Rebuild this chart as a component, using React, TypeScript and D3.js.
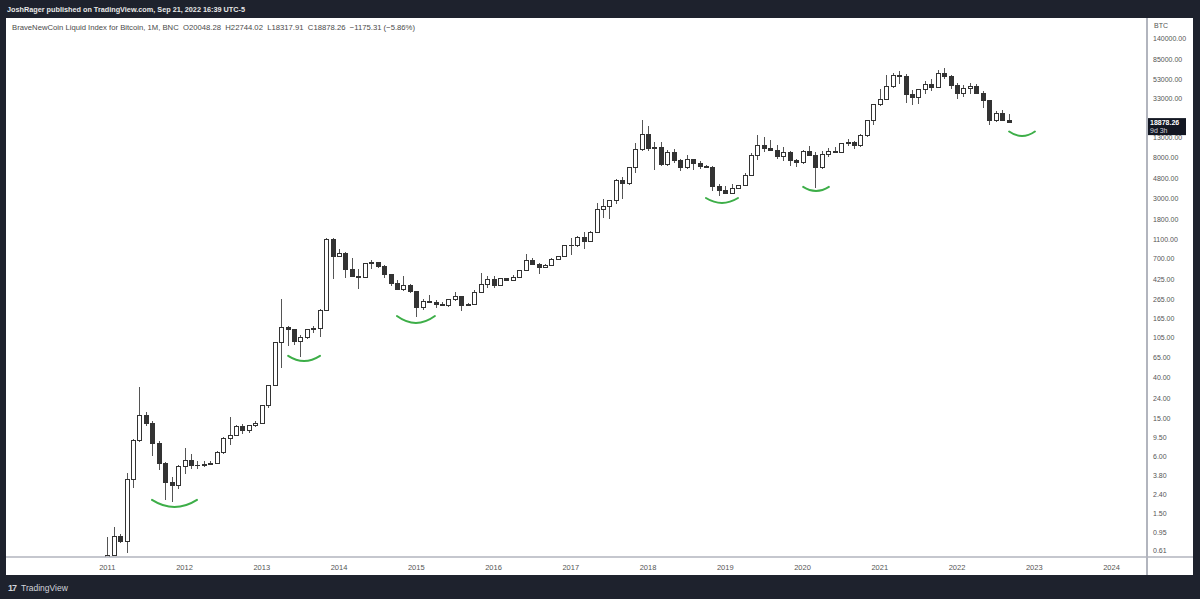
import React from 'react';
import * as d3 from 'd3';

// BNC BLX monthly candles, Jan 2011 .. Sep 2022
const open = [
  0.30, 0.56, 0.87, 0.78, 3.5, 8.8, 16.2, 13.4, 8.2, 5.1, 3.25, 2.97,
  4.7, 5.5, 4.9, 4.85, 4.95, 5.15, 6.65, 9.3, 10.1, 12.4, 11.2, 12.6,
  13.5, 20.4, 33.4, 93, 135, 129, 97, 106, 129, 133, 204, 1130,
  750, 810, 550, 460, 448, 625, 640, 585, 480, 387, 338, 375,
  318, 218, 254, 244, 236, 230, 263, 284, 230, 236, 314, 378,
  430, 368, 437, 416, 448, 531, 673, 624, 574, 609, 700, 742,
  965, 968, 1190, 1080, 1350, 2300, 2480, 2870, 4730, 4340, 6450, 9900,
  14150, 10200, 10400, 6900, 9240, 7500, 6400, 7730, 7020, 6620, 6330, 4000,
  3700, 3430, 3820, 4100, 5300, 8560, 10800, 10100, 9600, 8300, 9150, 7550,
  7200, 9350, 8550, 6430, 8650, 9450, 9150, 11350, 11650, 10780, 13800, 19700,
  28950, 33100, 45200, 58800, 57800, 37300, 35000, 41500, 47100, 43800, 61300, 57000,
  46300, 38500, 43200, 45500, 37700, 31800, 19800, 23300, 20048.28,
];
const high = [
  0.86, 1.10, 0.92, 4.0, 9.0, 31.8, 17.5, 14.0, 8.7, 5.2, 3.6, 4.8,
  7.3, 6.4, 5.4, 5.4, 5.4, 6.8, 9.6, 15.4, 12.6, 12.9, 12.7, 13.9,
  20.7, 33.6, 95, 266, 140, 130, 111, 130, 140, 210, 1160, 1150,
  880, 830, 715, 550, 630, 680, 650, 600, 490, 415, 460, 380,
  320, 265, 295, 260, 245, 268, 315, 285, 243, 330, 495, 465,
  462, 445, 440, 470, 540, 780, 705, 630, 612, 715, 755, 980,
  1150, 1200, 1350, 1365, 2690, 2980, 2920, 4780, 4980, 6470, 11400, 19900,
  17200, 11800, 11600, 9750, 9950, 7780, 8480, 7750, 7400, 6700, 6550, 4200,
  4000, 4200, 4150, 5600, 9000, 13800, 13100, 12300, 10900, 10400, 9500, 7750,
  9550, 10500, 9150, 9450, 10050, 10400, 11450, 12450, 12100, 14100, 19900, 29300,
  41900, 58300, 61700, 64800, 59500, 41300, 42300, 50500, 52900, 66900, 69000, 59100,
  47900, 45800, 48200, 47400, 40000, 31900, 24600, 25200, 22744.02,
];
const low = [
  0.28, 0.55, 0.74, 0.58, 2.8, 8.5, 12.5, 6.0, 4.3, 2.1, 2.0, 2.7,
  3.9, 4.4, 4.4, 4.6, 4.9, 5.1, 6.4, 7.9, 9.9, 10.3, 10.5, 12.1,
  12.9, 19.1, 33, 50, 85, 88, 65, 100, 117, 105, 200, 430,
  740, 440, 450, 340, 440, 550, 565, 445, 365, 330, 320, 305,
  172, 205, 240, 215, 225, 220, 253, 200, 225, 235, 305, 350,
  350, 365, 405, 415, 440, 525, 600, 480, 570, 605, 690, 740,
  760, 920, 890, 1075, 1350, 1850, 1830, 2650, 2980, 4100, 5550, 9500,
  9500, 5950, 6600, 6580, 7100, 5800, 6100, 5880, 6120, 6200, 3600, 3200,
  3350, 3380, 3800, 4050, 5300, 7500, 9100, 9400, 7800, 7400, 6550, 6450,
  6900, 8450, 3850, 6150, 8150, 8900, 8950, 10600, 9900, 10400, 13300, 17600,
  28100, 32300, 43000, 47000, 30000, 28800, 29300, 37400, 39600, 43300, 53300, 42000,
  33000, 34400, 37200, 37600, 26700, 17600, 18800, 19600, 18317.91,
];
const close = [
  0.56, 0.87, 0.78, 3.5, 8.8, 16.2, 13.4, 8.2, 5.1, 3.25, 2.97, 4.7,
  5.5, 4.9, 4.85, 4.95, 5.15, 6.65, 9.3, 10.1, 12.4, 11.2, 12.6, 13.5,
  20.4, 33.4, 93, 135, 129, 97, 106, 129, 133, 204, 1130, 750,
  810, 550, 460, 448, 625, 640, 585, 480, 387, 338, 375, 318,
  218, 254, 244, 236, 230, 263, 284, 230, 236, 314, 378, 430,
  368, 437, 416, 448, 531, 673, 624, 574, 609, 700, 742, 965,
  968, 1190, 1080, 1350, 2300, 2480, 2870, 4730, 4340, 6450, 9900, 14150,
  10200, 10400, 6900, 9240, 7500, 6400, 7730, 7020, 6620, 6330, 4000, 3700,
  3430, 3820, 4100, 5300, 8560, 10800, 10100, 9600, 8300, 9150, 7550, 7200,
  9350, 8550, 6430, 8650, 9450, 9150, 11350, 11650, 10780, 13800, 19700, 28950,
  33100, 45200, 58800, 57800, 37300, 35000, 41500, 47100, 43800, 61300, 57000, 46300,
  38500, 43200, 45500, 37700, 31800, 19800, 23300, 20048.28, 18878.26,
];

const yearLabels = ['2011', '2012', '2013', '2014', '2015', '2016', '2017', '2018', '2019', '2020', '2021', '2022', '2023', '2024'];
// 20000.00 sits under the last-price tag in the original, so it is left out
const priceTicks = [140000, 85000, 53000, 33000, 13000, 8000, 4800, 3000, 1800, 1100, 700, 425, 265, 165, 105, 65, 40, 24, 15, 9.5, 6, 3.8, 2.4, 1.5, 0.95, 0.61];

// hand drawn green "smiles": month index span, price at the tips, price at the bottom
const smileFrom = [6.95, 28.1, 45.0, 93.0, 108.1, 140.1];
const smileTo = [13.94, 33.05, 50.9, 97.98, 112.1, 144.1];
const smileEdge = [2.09, 67.3, 176, 3030, 3957, 15070];
const smileBottom = [1.76, 59.5, 149, 2688, 3592, 13520];

const header = 'JoshRager published on TradingView.com, Sep 21, 2022 16:39 UTC-5';
const legend = 'BraveNewCoin Liquid Index for Bitcoin, 1M, BNC  O20048.28  H22744.02  L18317.91  C18878.26  \u22121175.31 (\u22125.86%)';

export default function App() {
  const W = 1200, H = 599;
  const panel = { left: 6, top: 18, right: 1193, bottom: 575 };
  const plotRight = 1147, plotBottom = 557;

  const x = d3.scaleLinear().domain([0, 156]).range([107.25, 1111.5]);
  const y = d3.scaleLog().domain([0.61, 140000]).range([551, 39]);

  const candles = close.map((c, i) => ({ i, o: open[i], h: high[i], l: low[i], c }));
  const last = candles[candles.length - 1];
  const font = '"Liberation Sans", Arial, sans-serif';
  const ink = '#333';

  const smiles = smileFrom.map((f, k) => {
    const p = d3.path();
    const ye = y(smileEdge[k]);
    p.moveTo(x(f), ye);
    p.quadraticCurveTo(x((f + smileTo[k]) / 2), 2 * y(smileBottom[k]) - ye, x(smileTo[k]), ye);
    return p.toString();
  });

  const ly = y(last.c);

  return (
    <svg width={W} height={H} style={{ position: 'absolute', left: 0, top: 0, display: 'block' }}
      fontFamily={font}>
      <defs>
        <clipPath id="plot">
          <rect x={panel.left} y={panel.top} width={plotRight - panel.left} height={plotBottom - panel.top} />
        </clipPath>
      </defs>
      <rect width={W} height={H} fill="#1e222d" />
      <rect x={panel.left} y={panel.top} width={panel.right - panel.left} height={panel.bottom - panel.top} fill="#fff" />

      <text x={7} y={12} fill="#e8e8e8" fontSize={8} fontWeight={600}
        textLength={238} lengthAdjust="spacingAndGlyphs">{header}</text>
      <text x={12} y={30} fill="#4a4a4a" fontSize={8}
        textLength={403} lengthAdjust="spacingAndGlyphs" style={{ whiteSpace: 'pre' }}>{legend}</text>

      <g clipPath="url(#plot)" shapeRendering="crispEdges">
        {candles.map(d => {
          const cx = Math.round(x(d.i)) + 0.5;
          const up = d.c >= d.o;
          const top = Math.round(y(Math.max(d.o, d.c)));
          const bot = Math.round(y(Math.min(d.o, d.c)));
          return (
            <g key={d.i}>
              <line x1={cx} x2={cx} y1={y(d.h)} y2={y(d.l)} stroke="#555" strokeWidth={1} />
              {bot - top < 1
                ? <line x1={cx - 2.5} x2={cx + 2.5} y1={top + 0.5} y2={top + 0.5} stroke={ink} />
                : <rect x={cx - 2} y={top + 0.5} width={4} height={bot - top} fill={up ? '#fff' : ink} stroke={ink} strokeWidth={1} />}
            </g>
          );
        })}
      </g>

      <g fill="none" stroke="#3dae48" strokeWidth={2} strokeLinecap="round">
        {smiles.map((d, k) => <path key={k} d={d} />)}
      </g>

      {/* axes */}
      <line x1={plotRight} x2={plotRight} y1={panel.top} y2={panel.bottom} stroke="#b2b5be" strokeWidth={2} />
      <line x1={panel.left} x2={panel.right} y1={plotBottom} y2={plotBottom} stroke="#b2b5be" strokeWidth={1.5} />

      <text x={1154} y={28} fontSize={7} fill="#555">BTC</text>
      {priceTicks.map(t => (
        <text key={t} x={1153} y={y(t)} dy="0.35em" fontSize={7} fill="#555">{d3.format('.2f')(t)}</text>
      ))}

      <g>
        <rect x={1148} y={ly - 4} width={38} height={17} fill="#131722" />
        <text x={1150} y={ly + 2.5} fontSize={7} fontWeight={700} fill="#fff">{d3.format('.2f')(last.c)}</text>
        <text x={1150} y={ly + 10.5} fontSize={7} fill="#d1d4dc">9d 3h</text>
      </g>

      {yearLabels.map((lbl, k) => (
        <text key={lbl} x={x(k * 12)} y={570} fontSize={7.5} fill="#555" textAnchor="middle">{lbl}</text>
      ))}

      <g fill="#d1d4dc">
        <text x={8} y={591} fontSize={9} fontWeight={700} letterSpacing={-1}>17</text>
        <text x={21} y={591} fontSize={8.5}>TradingView</text>
      </g>
    </svg>
  );
}
